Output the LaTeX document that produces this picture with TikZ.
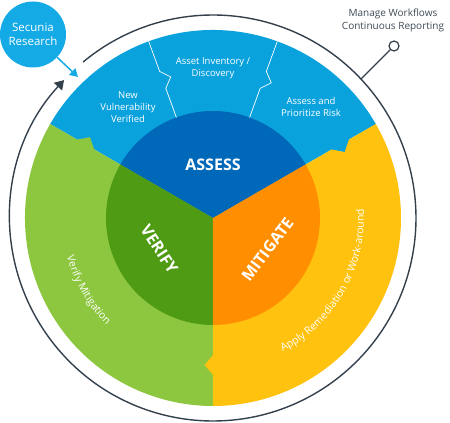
\documentclass[tikz,border=0pt]{standalone}
\usepackage{fontspec}
\setmainfont{Open Sans}
\usepackage{tikz}
\usetikzlibrary{arrows.meta, calc, decorations.text}
\definecolor{cyc-sky}{HTML}{0AA2DD}
\definecolor{cyc-blue}{HTML}{0068B8}
\definecolor{cyc-lime}{HTML}{8DC63F}
\definecolor{cyc-green}{HTML}{4F9B13}
\definecolor{cyc-yellow}{HTML}{FFC20F}
\definecolor{cyc-orange}{HTML}{FF8F00}
\definecolor{cyc-ring}{HTML}{34404B}
\definecolor{cyc-source}{HTML}{14AAE6}
\definecolor{cyc-text}{HTML}{3E4A55}

\begin{document}
\begin{tikzpicture}[x=1pt, y=1pt,
		phase/.style={
			text=white, inner sep=0pt,
			font=\fontsize{16}{18}\selectfont\bfseries
		},
		task/.style={
			text=white, align=center, inner sep=0pt,
			font=\fontsize{9.5}{12}\selectfont
		},
		arctask/.style={
			decorate, decoration={text along path, text align=center,
				text={|\fontsize{10.5}{12}\selectfont\color{white}|#1}}
		},
		divider/.style={
			draw=white, line width=0.7pt, line join=miter
		},
		ringline/.style={
			draw=cyc-ring, line width=1.4pt
		}
		]
		
		\def\rin{107}
		\def\rout{188}
		\def\rring{203}
		\def\rtext{151}
		
		\useasboundingbox (-213,-205) rectangle (237,218);
		
		% outer ring of tasks
		\fill[cyc-sky] (0,0) -- (30:\rout) arc[start angle=30, end angle=150, radius=\rout] -- cycle;
		\fill[cyc-lime] (0,0) -- (150:\rout) arc[start angle=150, end angle=270, radius=\rout] -- cycle;
		\fill[cyc-yellow] (0,0) -- (270:\rout) arc[start angle=270, end angle=390, radius=\rout] -- cycle;
		
		% notches
		\foreach \a/\c in {30/cyc-sky, 150/cyc-lime, 270/cyc-yellow}
		\fill[\c] ($(\a:136)+(\a+90:1)$) -- ($(\a:147)+(\a-90:8.5)$) -- ($(\a:158)+(\a+90:1)$) -- cycle;
		
		% inner phases
		\fill[cyc-blue] (0,0) -- (30:\rin) arc[start angle=30, end angle=150, radius=\rin] -- cycle;
		\fill[cyc-green] (0,0) -- (150:\rin) arc[start angle=150, end angle=270, radius=\rin] -- cycle;
		\fill[cyc-orange] (0,0) -- (270:\rin) arc[start angle=270, end angle=390, radius=\rin] -- cycle;
		
		% split of the assess ring
		\foreach \a in {70, 110}
		\draw[divider] (\a:\rin) -- (\a:138) -- ($(\a:147)+(\a-90:8.5)$) -- (\a:156) -- (\a:\rout);
		
		% cycle arrow
		\draw[ringline, -{Triangle[length=9pt, width=11pt]}] (129.8:\rring) arc[start angle=129.8, end angle=-222.8, radius=\rring];
		
		% phases
		\node[phase] (assess) at (0,53) {ASSESS};
		\node[phase, rotate=-57] (verify) at (210:62) {VERIFY};
		\node[phase, rotate=53] (mitigate) at (330:63) {MITIGATE};
		
		% tasks
		\node[task] (newvuln) at (-85,111) {New\\Vulnerability\\Verified};
		\node[task] (inventory) at (0,150) {Asset Inventory /\\Discovery};
		\node[task] (prioritize) at (98,111) {Assess and\\Prioritize Risk};
		\path[arctask={Verify Mitigation}] (170:\rtext) arc[start angle=170, end angle=250, radius=\rtext];
		\path[arctask={Apply Remediation or Work-around}] (-80:\rtext) arc[start angle=-80, end angle=21, radius=\rtext];
		
		% secunia research
		\node[circle, fill=cyc-source, minimum size=66pt, inner sep=0pt, text=white, align=center,
		font=\fontsize{11.5}{14}\selectfont] (source) at (-180,183.5) {Secunia\\Research};
		\coordinate (sourcetip) at (-135,141);
		\draw[cyc-source, line width=1.5pt, -{Triangle[length=8pt, width=9pt]}] (source) -- (sourcetip);
		
		% workflows
		\coordinate (ringpin) at (43.2:\rring);
		\node[circle, draw=cyc-ring, fill=white, line width=1.2pt, minimum size=10pt, inner sep=0pt] (pin) at (181,172) {};
		\draw[cyc-ring, line width=1.2pt] (ringpin) -- (pin);
		\node[text=cyc-text, align=center, font=\fontsize{10}{13}\selectfont] (workflows) at (180,197.5)
		{Manage Workflows\\Continuous Reporting};
		
	\end{tikzpicture}
\end{document}
